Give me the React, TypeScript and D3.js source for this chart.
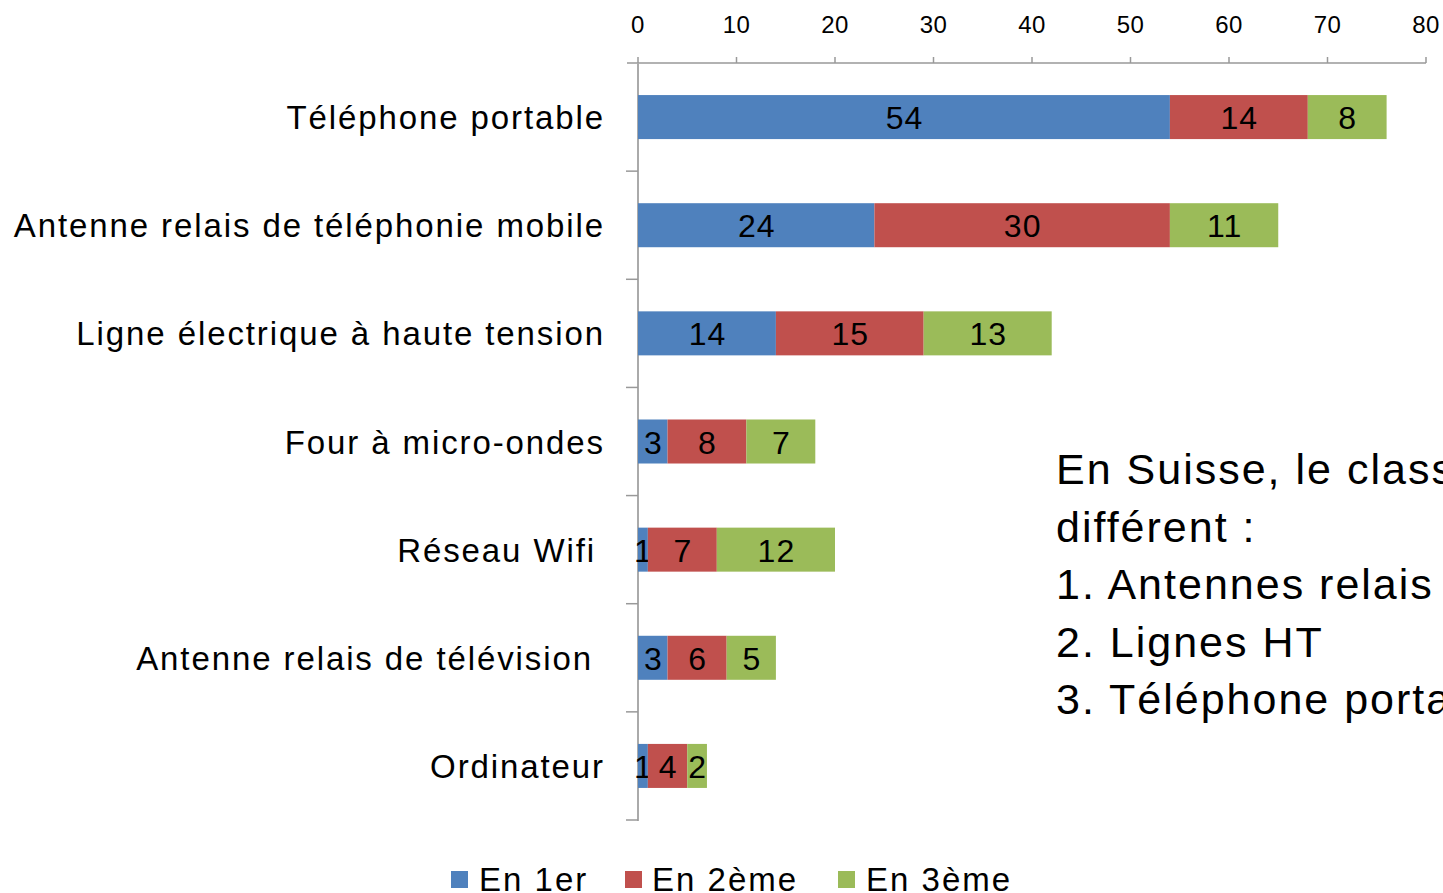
import React from "react";
import * as d3 from "d3";

const categories = [
  "Téléphone portable",
  "Antenne relais de téléphonie mobile",
  "Ligne électrique à haute tension",
  "Four à micro-ondes",
  "Réseau Wifi",
  "Antenne relais de télévision",
  "Ordinateur",
];
const seriesNames = ["En 1er", "En 2ème", "En 3ème"];
const first = [54, 24, 14, 3, 1, 3, 1];
const second = [14, 30, 15, 8, 7, 6, 4];
const third = [8, 11, 13, 7, 12, 5, 2];
const xTicks = [0, 10, 20, 30, 40, 50, 60, 70, 80];
const colors = ["#4F81BD", "#C0504D", "#9BBB59"];
const labelOffsets = [0, 0, 0, 0, 9, 12, 0];
const noteLines = [
  "En Suisse, le classement est",
  "différent :",
  "1. Antennes relais",
  "2. Lignes HT",
  "3. Téléphone portable",
];

const W = 1443;
const H = 893;
const FONT = "'Liberation Sans', Arial, sans-serif";

export default function App() {
  const x = d3.scaleLinear().domain([0, 80]).range([638, 1426]);
  const y = d3
    .scaleBand<string>()
    .domain(categories)
    .range([63, 820])
    .paddingInner(0.593)
    .paddingOuter(0.2965);
  const series = [first, second, third];
  const rows = categories.map((c, i) => ({ cat: c, vals: series.map((s) => s[i]) }));
  const stack = d3.stack<any>().keys(["0", "1", "2"]).value((d: any, k: string) => d.vals[+k]);
  const stacked = stack(rows);
  const step = y.step();
  const boundaries = categories.map((c, i) => 63 + step * (i + 1));

  const legendItems = [
    { sq: 451, tx: 479 },
    { sq: 625, tx: 652 },
    { sq: 838, tx: 866 },
  ];

  return (
    <svg
      width={W}
      height={H}
      style={{ position: "absolute", left: 0, top: 0, background: "#fff" }}
      fontFamily={FONT}
    >
      {/* top axis */}
      <line x1={627} x2={1426} y1={63} y2={63} stroke="#999" strokeWidth={1.5} />
      {xTicks.map((t) => (
        <g key={t}>
          <line x1={x(t)} x2={x(t)} y1={57} y2={63} stroke="#999" strokeWidth={1.5} />
          <text x={x(t)} y={33} textAnchor="middle" fontSize={24} letterSpacing={0.5} fill="#000">
            {t}
          </text>
        </g>
      ))}
      {/* y axis */}
      <line x1={638} x2={638} y1={63} y2={821} stroke="#aaa" strokeWidth={2} />
      {boundaries.map((b, i) => (
        <line key={i} x1={626} x2={638} y1={b} y2={b} stroke="#999" strokeWidth={1.5} />
      ))}
      {/* category labels */}
      {categories.map((c, i) => (
        <text
          key={c}
          x={605 - labelOffsets[i]}
          y={(y(c) as number) + y.bandwidth() / 2 + 12}
          textAnchor="end"
          fontSize={33}
          letterSpacing={1.9}
          fill="#000"
        >
          {c}
        </text>
      ))}
      {/* bars */}
      {stacked.map((layer, si) => (
        <g key={si}>
          {layer.map((d: any, i: number) => {
            const x0 = x(d[0]);
            const x1 = x(d[1]);
            const yy = y(categories[i]) as number;
            return (
              <g key={i}>
                <rect x={x0} y={yy} width={x1 - x0} height={y.bandwidth()} fill={colors[si]} />
                <text
                  x={(x0 + x1) / 2 + 0.5}
                  y={yy + y.bandwidth() / 2 + 12}
                  textAnchor="middle"
                  fontSize={32}
                  letterSpacing={1}
                  fill="#000"
                >
                  {d.data.vals[si]}
                </text>
              </g>
            );
          })}
        </g>
      ))}
      {/* note */}
      {noteLines.map((l, i) => (
        <text key={i} x={1056} y={484 + i * 57.5} fontSize={43} letterSpacing={2} fill="#000">
          {l}
        </text>
      ))}
      {/* legend */}
      {seriesNames.map((s, i) => (
        <g key={s}>
          <rect x={legendItems[i].sq} y={871} width={17} height={17} fill={colors[i]} />
          <text x={legendItems[i].tx} y={891} fontSize={33} letterSpacing={2} fill="#000">
            {s}
          </text>
        </g>
      ))}
    </svg>
  );
}
